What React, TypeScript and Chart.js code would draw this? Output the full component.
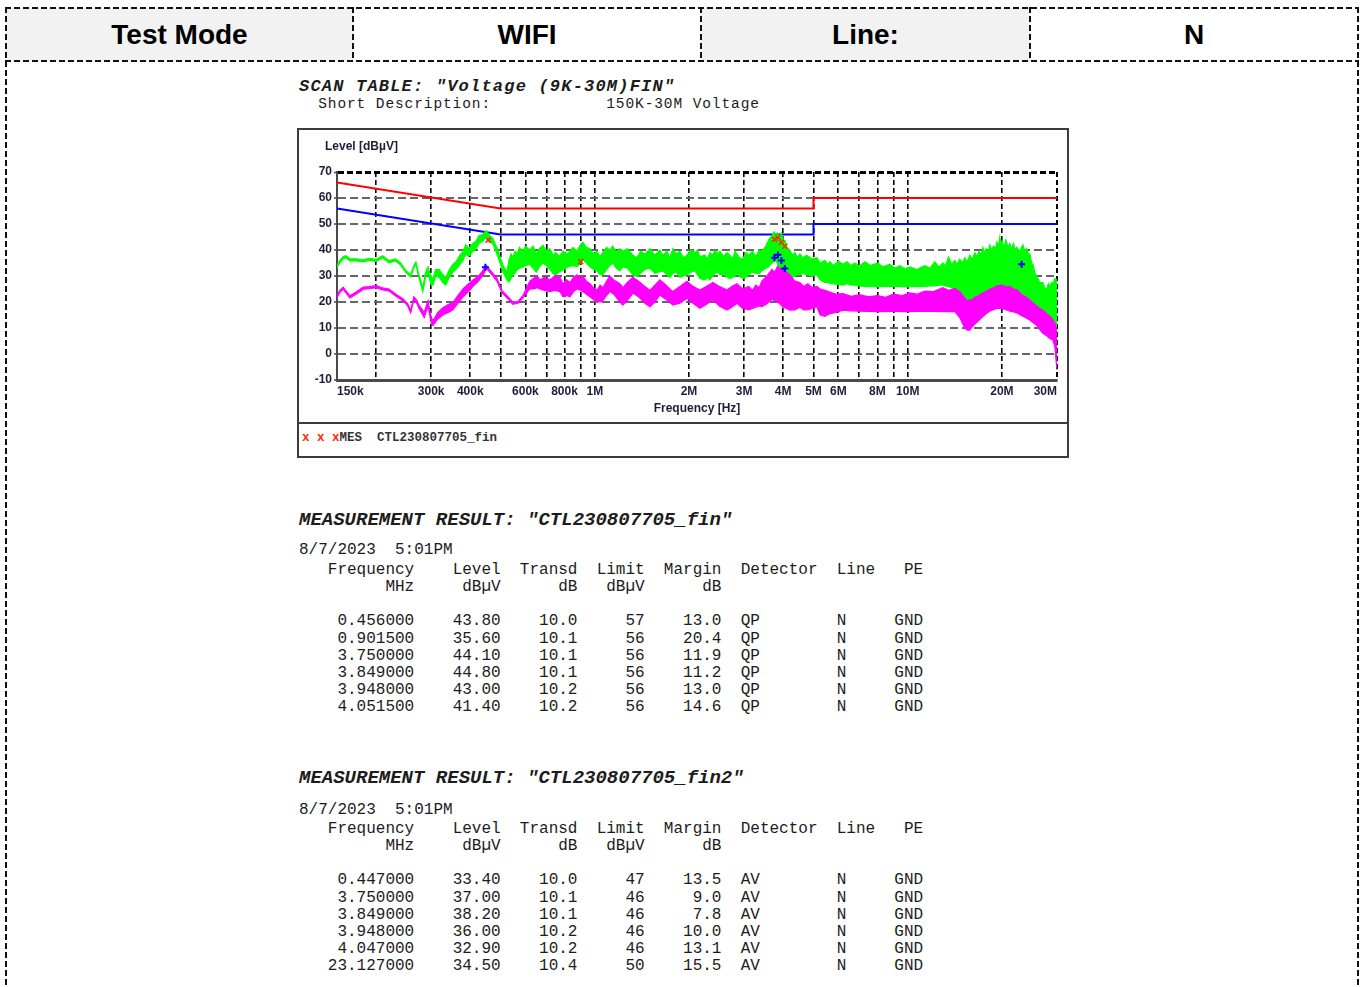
import React, { useEffect, useRef } from 'react';
import { Chart, registerables } from 'chart.js';

Chart.register(...registerables);

// ---------- header ----------
const HEADER_CELLS = ['Test Mode', 'WIFI', 'Line:', 'N'];

// ---------- scan table text ----------
const SCAN_TITLE = 'SCAN TABLE: "Voltage (9K-30M)FIN"';
const SCAN_DESC = '  Short Description:            150K-30M Voltage';

// ---------- axes ----------
const X_GRID = [0.15, 0.2, 0.3, 0.4, 0.5, 0.6, 0.7, 0.8, 0.9, 1, 2, 3, 4, 5, 6, 7, 8, 9, 10, 20, 30];
const X_TICK_LABELS = ['        150k', '', '300k', '400k', '', '600k', '', '800k', '', '1M', '2M', '3M', '4M', '5M', '6M', '', '8M', '', '10M', '20M', '30M       '];
const Y_TICKS = [-10, 0, 10, 20, 30, 40, 50, 60, 70];

// ---------- limit lines ----------
const LIMIT_FREQ = [0.15, 0.5, 5, 5, 30];
const QP_LIMIT_LINE = [66, 56, 56, 60, 60];
const AV_LIMIT_LINE = [56, 46, 46, 50, 50];

// ---------- peak scan trace (green): frequency [MHz], upper and lower edge [dBuV] ----------
const G_FREQ = [
  0.150, 0.153, 0.157, 0.160, 0.165, 0.172, 0.182, 0.190, 0.200, 0.210, 0.215, 0.220, 0.231, 0.240, 0.249, 0.258,
  0.264, 0.268, 0.274, 0.282, 0.288, 0.293, 0.300, 0.304, 0.310, 0.318, 0.327, 0.334, 0.343, 0.352, 0.360, 0.368,
  0.379, 0.387, 0.395, 0.408, 0.418, 0.426, 0.440, 0.449, 0.455, 0.462, 0.472, 0.490, 0.509, 0.524,
  0.532, 0.540, 0.547, 0.556, 0.564, 0.575, 0.589, 0.600, 0.620, 0.635, 0.650, 0.665, 0.683, 0.700, 0.719, 0.735,
  0.750, 0.770, 0.791, 0.820, 0.851, 0.877, 0.900, 0.916, 0.940, 0.965, 0.990, 1.016, 1.040, 1.061, 1.090, 1.117,
  1.142, 1.170, 1.203, 1.230, 1.270, 1.324, 1.363, 1.400, 1.446, 1.500, 1.556, 1.614, 1.650, 1.700, 1.738, 1.776,
  1.820, 1.871, 1.920, 1.970, 2.030, 2.089, 2.130, 2.166, 2.248, 2.290, 2.333, 2.380, 2.425, 2.470, 2.511, 2.580,
  2.644, 2.700, 2.763, 2.800, 2.846, 2.900, 2.974, 3.040, 3.108, 3.190, 3.273, 3.350, 3.420, 3.520, 3.600, 3.681,
  3.740, 3.791, 3.840, 3.875, 3.940, 4.000, 4.060, 4.110, 4.203, 4.280, 4.359, 4.450, 4.523, 4.624, 4.750, 4.940,
  5.124,
  5.25, 5.436, 5.55, 5.639, 5.80, 6.00, 6.205, 6.40, 6.60, 6.778, 7.00, 7.295, 7.60, 8.000, 8.35, 8.766,
  9.10, 9.435, 9.80, 10.16, 10.70, 11.34, 11.80, 12.20, 12.60, 12.95, 13.20, 13.50, 13.80, 14.15, 14.40, 14.67,
  14.95, 15.22, 15.50, 15.79, 16.10, 16.38, 16.65, 16.90, 17.15, 17.38, 17.60, 17.80, 18.05, 18.30, 18.55, 18.80,
  19.05, 19.27, 19.50, 19.70, 19.85, 20.00, 20.30, 20.60, 20.90, 21.20, 21.50, 21.80, 22.05, 22.32, 22.80, 23.33,
  23.70, 24.00, 24.30, 24.56, 24.90, 25.20, 25.50, 25.86, 26.40, 27.03, 27.40, 27.83, 28.15, 28.46, 28.80, 29.09,
  29.50, 30.00,
];
const G_HI = [
  34.0, 35.9, 37.4, 37.8, 36.6, 36.6, 36.2, 36.8, 36.4, 37.8, 36.8, 35.9, 36.6, 34.9, 32.1, 30.4,
  33.9, 35.4, 30.6, 25.5, 31.5, 33.5, 29.5, 29.0, 32.5, 32.5, 30.5, 29.5, 32.5, 34.5, 35.5, 37.5,
  39.5, 42.0, 40.5, 42.5, 43.5, 45.5, 46.0, 47.5, 46.5, 45.5, 44.5, 40.0, 34.0, 31.5,
  36.2, 38.5, 37.0, 39.5, 38.5, 41.0, 39.5, 41.5, 40.0, 41.5, 38.5, 40.5, 41.8, 39.5, 40.5, 38.0,
  39.0, 37.5, 39.5, 38.5, 41.0, 39.5, 42.0, 43.0, 41.0, 40.5, 38.5, 39.5, 37.5, 39.0, 41.0, 40.0,
  41.5, 39.0, 40.5, 39.5, 40.5, 38.0, 37.0, 39.5, 38.5, 40.5, 38.0, 40.0, 38.0, 39.5, 37.0, 40.5,
  38.5, 39.5, 37.0, 38.0, 40.0, 39.0, 40.0, 37.5, 38.0, 36.5, 39.0, 38.0, 40.0, 38.5, 39.5, 37.5,
  39.0, 38.0, 36.5, 39.5, 38.5, 37.0, 36.5, 39.0, 38.0, 39.5, 37.5, 40.0, 39.5, 41.5, 44.0, 45.5,
  47.0, 45.5, 46.5, 45.0, 46.5, 44.0, 43.5, 41.0, 40.0, 38.0, 39.0, 37.0, 38.5, 37.0, 38.0, 36.5,
  37.0,
  35.0, 36.0, 34.5, 35.5, 34.0, 35.8, 34.5, 35.5, 34.0, 35.0, 33.8, 35.5, 34.0, 35.0, 33.5, 34.5,
  33.0, 34.0, 32.8, 33.5, 32.5, 34.0, 33.0, 35.5, 33.5, 35.0, 33.8, 37.4, 34.5, 36.0, 34.5, 36.5,
  35.0, 37.0, 35.5, 38.0, 36.5, 39.0, 37.5, 39.5, 38.0, 41.0, 39.0, 40.5, 39.0, 42.0, 40.0, 41.5,
  40.5, 43.0, 41.5, 45.0, 42.5, 43.5, 41.0, 44.0, 41.0, 42.5, 40.5, 42.5, 40.0, 41.0, 39.5, 42.0,
  39.5, 40.5, 38.5, 38.5, 35.0, 34.0, 31.0, 30.0, 27.5, 27.5, 25.5, 25.0, 27.0, 26.0, 27.5, 27.0,
  29.0, 28.5,
];
const G_LO = [
  33.2, 35.1, 36.6, 37.0, 35.8, 35.8, 35.4, 36.0, 35.6, 37.0, 36.0, 35.1, 35.8, 34.1, 31.3, 29.6,
  33.1, 34.6, 29.4, 24.0, 29.5, 31.0, 26.5, 26.5, 30.0, 29.5, 27.5, 26.5, 29.5, 31.5, 32.5, 34.0,
  36.0, 38.5, 37.5, 39.5, 40.5, 42.5, 43.5, 45.5, 44.5, 43.0, 42.5, 37.5, 31.5, 28.5,
  27.8, 29.0, 30.5, 31.0, 32.3, 33.0, 33.5, 34.0, 34.5, 33.0, 31.5, 33.5, 35.0, 34.0, 32.5, 31.0,
  30.5, 31.5, 32.3, 33.5, 34.0, 33.6, 35.0, 36.2, 35.0, 33.5, 32.5, 32.0, 30.5, 30.4, 32.5, 34.0,
  35.0, 33.0, 32.0, 33.6, 33.0, 30.5, 29.7, 31.0, 32.5, 33.0, 31.0, 31.7, 32.0, 30.5, 29.5, 31.0,
  31.5, 29.5, 30.0, 30.4, 31.5, 32.0, 30.5, 29.0, 28.5, 29.5, 28.5, 30.0, 31.0, 31.5, 30.5, 30.5,
  29.7, 29.0, 29.5, 30.0, 31.0, 30.0, 29.0, 29.5, 30.5, 31.5, 31.0, 31.0, 32.0, 33.0, 33.6, 35.0,
  35.5, 36.2, 34.5, 34.0, 32.5, 31.0, 30.0, 29.5, 28.5, 29.5, 30.0, 30.5, 30.5, 31.0, 30.5, 30.0,
  30.4,
  28.5, 27.5, 27.5, 27.2, 27.0, 26.8, 26.5, 27.0, 26.5, 26.5, 26.2, 26.0, 26.0, 25.9, 26.0, 26.0,
  26.0, 26.0, 25.8, 25.9, 26.0, 26.0, 26.2, 26.2, 26.5, 26.5, 26.2, 26.0, 25.5, 25.0, 23.5, 22.0,
  21.0, 20.0, 19.5, 19.5, 20.0, 21.0, 22.0, 22.5, 23.0, 23.4, 23.8, 24.0, 24.0, 24.0, 24.0, 24.0,
  24.2, 24.5, 24.6, 24.6, 24.6, 24.6, 24.5, 24.5, 24.2, 24.0, 24.0, 24.0, 24.0, 24.0, 23.5, 23.0,
  22.0, 21.5, 20.5, 20.0, 19.0, 18.0, 17.0, 15.8, 14.0, 12.0, 10.5, 9.2, 9.0, 8.5, 8.2, 8.0,
  7.6, 7.3,
];

// ---------- average scan trace (magenta): frequency [MHz], upper and lower edge [dBuV] ----------
const M_FREQ = [
  0.150, 0.153, 0.157, 0.160, 0.165, 0.173, 0.182, 0.190, 0.200, 0.210, 0.220, 0.231, 0.244, 0.252, 0.258, 0.264,
  0.270, 0.274, 0.285, 0.293, 0.300, 0.304, 0.315, 0.327, 0.340, 0.352, 0.365, 0.379, 0.395, 0.408, 0.425, 0.440,
  0.450, 0.465, 0.487, 0.505, 0.524, 0.547, 0.570, 0.589, 0.620,
  0.640, 0.655, 0.668, 0.690, 0.719, 0.745, 0.774, 0.791, 0.812, 0.833, 0.855, 0.877, 0.900, 0.916, 0.940, 0.965,
  0.990, 1.016, 1.040, 1.061, 1.090, 1.117, 1.150, 1.203, 1.230, 1.270, 1.324, 1.380, 1.446, 1.500, 1.556, 1.614,
  1.690, 1.776, 1.870, 1.970, 2.060, 2.166, 2.270, 2.385, 2.500, 2.644, 2.740, 2.846, 2.970, 3.108, 3.190, 3.273,
  3.350, 3.420, 3.520, 3.600, 3.681, 3.760, 3.840, 3.920, 4.000, 4.100, 4.203, 4.359, 4.523, 4.650, 4.797, 4.950,
  5.124,
  5.25, 5.436, 5.639, 5.90, 6.205, 6.60, 7.000, 7.50, 8.000, 8.50, 9.000, 9.60, 10.16, 10.70, 11.34, 12.10,
  12.95, 13.50, 14.15, 14.67, 15.00, 15.22, 15.50, 15.79, 16.10, 16.38, 16.90, 17.38, 17.80, 18.30, 18.80, 19.27,
  20.00, 20.60, 21.20, 21.80, 22.32, 23.33, 24.00, 24.56, 25.20, 25.86, 26.40, 27.03, 27.80, 28.46, 29.09, 29.52,
  30.00,
];
const M_HI = [
  22.4, 24.4, 25.7, 24.4, 22.4, 23.9, 25.7, 25.9, 26.3, 25.4, 25.0, 23.1, 21.2, 19.4, 16.8, 22.0,
  20.6, 18.8, 16.0, 20.5, 14.0, 12.8, 16.0, 17.8, 19.0, 19.8, 22.5, 25.0, 27.0, 28.5, 30.0, 32.3,
  34.0, 32.0, 29.0, 24.4, 22.4, 19.9, 20.4, 22.4, 28.0,
  29.2, 30.0, 28.5, 29.5, 28.5, 30.0, 29.5, 27.0, 28.5, 27.5, 29.5, 30.5, 29.0, 30.0, 28.0, 27.0,
  25.5, 24.6, 26.5, 25.5, 28.0, 30.0, 28.5, 27.0, 25.5, 27.5, 29.5, 28.0, 26.0, 24.5, 26.5, 28.5,
  26.5, 24.0, 26.0, 28.0, 26.0, 24.6, 26.0, 27.5, 26.0, 24.6, 26.0, 27.0, 25.0, 26.0, 24.5, 26.5,
  25.5, 28.0, 29.5, 31.0, 32.5, 31.5, 33.8, 32.5, 33.0, 31.5, 30.4, 28.0, 27.5, 26.0, 27.0, 25.5,
  26.0,
  25.0, 24.5, 23.8, 23.0, 23.2, 22.2, 22.8, 22.0, 22.5, 21.8, 23.0, 22.5, 23.5, 23.0, 24.2, 24.0,
  25.5, 24.5, 25.2, 24.0, 22.5, 21.5, 20.5, 20.8, 21.0, 21.8, 22.5, 23.5, 24.0, 25.0, 25.5, 26.2,
  26.5, 25.8, 26.0, 25.0, 24.8, 22.5, 21.8, 20.8, 19.5, 18.5, 17.5, 16.9, 15.5, 14.5, 13.1, 12.0,
  9.2,
];
const M_LO = [
  21.6, 23.6, 24.9, 23.6, 21.6, 23.1, 24.9, 25.1, 25.5, 24.6, 24.2, 22.3, 20.4, 18.6, 15.8, 21.0,
  19.4, 17.6, 14.0, 18.5, 12.0, 11.0, 13.5, 15.0, 16.0, 17.0, 19.5, 22.0, 24.0, 26.0, 28.0, 30.5,
  33.0, 31.0, 28.0, 23.6, 21.6, 19.1, 19.6, 21.6, 25.0,
  25.0, 25.5, 25.0, 24.5, 24.0, 24.5, 24.0, 22.0, 22.5, 22.0, 24.0, 25.0, 24.5, 24.0, 23.0, 22.0,
  21.0, 20.1, 20.0, 20.5, 22.5, 24.0, 23.0, 20.0, 18.8, 20.5, 23.4, 22.0, 19.5, 18.2, 20.0, 22.7,
  21.0, 18.8, 19.5, 21.4, 19.5, 17.6, 19.0, 20.8, 18.5, 16.9, 18.0, 19.5, 17.5, 17.0, 17.5, 18.0,
  18.5, 18.2, 19.0, 20.0, 21.0, 20.5, 20.0, 19.0, 18.0, 17.5, 16.9, 17.0, 18.0, 17.0, 17.0, 17.5,
  18.2,
  15.0, 14.5, 15.5, 16.0, 16.9, 16.6, 16.5, 16.4, 16.3, 16.3, 16.5, 16.3, 16.3, 16.4, 16.5, 16.4,
  16.3, 16.3, 16.3, 14.0, 11.5, 10.0, 9.2, 9.2, 10.5, 11.5, 13.0, 14.4, 15.5, 16.5, 17.0, 17.6,
  17.5, 17.0, 16.5, 16.2, 15.8, 14.5, 13.8, 13.1, 12.0, 11.0, 9.5, 8.0, 7.0, 6.0, 5.4, 3.0,
  -6.2,
];

// ---------- measurement results ----------
const RESULT_DATE = '8/7/2023  5:01PM';
const QP_TITLE = 'MEASUREMENT RESULT: "CTL230807705_fin"';
const QP_FREQ = [0.456, 0.9015, 3.75, 3.849, 3.948, 4.0515];
const QP_LEVEL = [43.8, 35.6, 44.1, 44.8, 43.0, 41.4];
const QP_TRANSD = [10.0, 10.1, 10.1, 10.1, 10.2, 10.2];
const QP_LIMIT = [57, 56, 56, 56, 56, 56];
const QP_MARGIN = [13.0, 20.4, 11.9, 11.2, 13.0, 14.6];

const AV_TITLE = 'MEASUREMENT RESULT: "CTL230807705_fin2"';
const AV_FREQ = [0.447, 3.75, 3.849, 3.948, 4.047, 23.127];
const AV_LEVEL = [33.4, 37.0, 38.2, 36.0, 32.9, 34.5];
const AV_TRANSD = [10.0, 10.1, 10.1, 10.2, 10.2, 10.4];
const AV_LIMIT = [47, 46, 46, 46, 46, 50];
const AV_MARGIN = [13.5, 9.0, 7.8, 10.0, 13.1, 15.5];

const LINE_NAME = 'N';
const PE_NAME = 'GND';

// ---------- styles ----------
const MONO = '"Liberation Mono", "DejaVu Sans Mono", monospace';
const SANS = '"Liberation Sans", Arial, sans-serif';
const LABEL_COLOR = '#1e1e3a';
const TEXT_COLOR = '#1c1c1c';

const pts = (fs: number[], vs: number[]) => fs.map((f, i) => ({ x: f, y: vs[i] }));

function headerLines(): string[] {
  return [
    'Frequency'.padStart(12) + 'Level'.padStart(9) + 'Transd'.padStart(8) + 'Limit'.padStart(7) + 'Margin'.padStart(8) + '  ' + 'Detector'.padEnd(10) + 'Line'.padEnd(6) + 'PE'.padStart(3),
    'MHz'.padStart(12) + 'dB\u00b5V'.padStart(9) + 'dB'.padStart(8) + 'dB\u00b5V'.padStart(7) + 'dB'.padStart(8),
    '',
  ];
}

function rowLines(freq: number[], level: number[], transd: number[], limit: number[], margin: number[], det: string): string[] {
  return freq.map((f, i) =>
    f.toFixed(6).padStart(12) + level[i].toFixed(2).padStart(9) + transd[i].toFixed(1).padStart(8) + String(limit[i]).padStart(7) + margin[i].toFixed(1).padStart(8) + '  ' + det.padEnd(10) + LINE_NAME.padEnd(6) + PE_NAME.padStart(3)
  );
}

const HDash = ({ x, y, w }: { x: number; y: number; w: number }) => (
  <div style={{ position: 'absolute', left: x, top: y, width: w, height: 2, backgroundImage: 'repeating-linear-gradient(to right, #111 0 6px, transparent 6px 9px)' }} />
);
const VDash = ({ x, y, h }: { x: number; y: number; h: number }) => (
  <div style={{ position: 'absolute', left: x, top: y, width: 2, height: h, backgroundImage: 'repeating-linear-gradient(to bottom, #111 0 6px, transparent 6px 9px)' }} />
);

const Txt = ({ x, cy, size, bold, italic, children, color, spacing }: any) => (
  <div style={{ position: 'absolute', left: x, top: cy - 7.5, lineHeight: '15px', height: 15, whiteSpace: 'pre', fontFamily: MONO, fontSize: size, letterSpacing: spacing || 0, fontWeight: bold ? 'bold' : 'normal', fontStyle: italic ? 'italic' : 'normal', color: color || TEXT_COLOR }}>
    {children}
  </div>
);

const levelTitlePlugin = {
  id: 'levelTitle',
  afterDraw(chart: any) {
    const ctx = chart.ctx;
    ctx.save();
    ctx.font = 'bold 12px "Liberation Sans", Arial, sans-serif';
    ctx.fillStyle = LABEL_COLOR;
    ctx.textBaseline = 'middle';
    ctx.textAlign = 'left';
    ctx.fillText('Level [dB\u00b5V]', 26, 17);
    ctx.restore();
  },
};

function EmiChart() {
  const ref = useRef<HTMLCanvasElement | null>(null);
  useEffect(() => {
    if (!ref.current) return;
    const lineDs = (label: string, data: any[], color: string, order: number, fill: any, width = 1.2) => ({
      label, data, borderColor: color, backgroundColor: color, borderWidth: width, pointRadius: 0, tension: 0, fill, order,
    });
    const chart = new Chart(ref.current, {
      type: 'line',
      data: {
        datasets: [
          { label: 'QP', data: pts(QP_FREQ, QP_LEVEL), showLine: false, pointStyle: 'crossRot', pointRadius: 3.5, borderColor: '#ff2a00', backgroundColor: '#ff2a00', borderWidth: 1.5, order: 0 } as any,
          { label: 'AV', data: pts(AV_FREQ, AV_LEVEL), showLine: false, pointStyle: 'cross', pointRadius: 3.5, borderColor: '#0000ff', backgroundColor: '#0000ff', borderWidth: 2, order: 0 } as any,
          lineDs('AV hi', pts(M_FREQ, M_HI), '#ff00ff', 1, '+1'),
          lineDs('AV lo', pts(M_FREQ, M_LO), '#ff00ff', 1, false),
          lineDs('PK hi', pts(G_FREQ, G_HI), '#00ff00', 2, '+1'),
          lineDs('PK lo', pts(G_FREQ, G_LO), '#00ff00', 2, false),
          lineDs('QP limit', pts(LIMIT_FREQ, QP_LIMIT_LINE), '#ff0000', 3, false, 2),
          lineDs('AV limit', pts(LIMIT_FREQ, AV_LIMIT_LINE), '#0000ff', 3, false, 2),
        ],
      },
      options: {
        animation: false,
        responsive: false,
        maintainAspectRatio: false,
        layout: { autoPadding: false, padding: { left: 0, top: 42, right: 10, bottom: 0 } } as any,
        plugins: { legend: { display: false }, tooltip: { enabled: false }, title: { display: false } },
        scales: {
          x: {
            type: 'logarithmic',
            min: 0.15,
            max: 30,
            afterBuildTicks: (s: any) => { s.ticks = X_GRID.map((v) => ({ value: v })); },
            afterFit: (s: any) => { s.height = 42; s.paddingLeft = 0; s.paddingRight = 0; },
            ticks: {
              autoSkip: false, maxRotation: 0, minRotation: 0, padding: 4,
              font: { family: SANS, size: 12, weight: 'bold' }, color: LABEL_COLOR,
              callback: (_v: any, i: number) => X_TICK_LABELS[i],
            },
            grid: {
              drawTicks: false,
              color: (c: any) => (c.index === 0 ? 'rgba(0,0,0,0)' : '#000'),
              lineWidth: (c: any) => (c.index === X_GRID.length - 1 ? 2 : 1.6),
            },
            border: { display: true, color: '#4a4a4a', width: 3, dash: [5, 3] },
            title: { display: true, text: 'Frequency [Hz]', color: LABEL_COLOR, font: { family: SANS, size: 12, weight: 'bold' }, padding: { top: 0, bottom: 6 } },
          } as any,
          y: {
            type: 'linear',
            min: -10,
            max: 70,
            afterBuildTicks: (s: any) => { s.ticks = Y_TICKS.map((v) => ({ value: v })); },
            afterFit: (s: any) => { s.width = 38; s.paddingTop = 0; s.paddingBottom = 0; },
            ticks: { padding: 2, font: { family: SANS, size: 12, weight: 'bold' }, color: LABEL_COLOR },
            grid: {
              drawTicks: true, tickLength: 3, tickColor: '#444', tickWidth: 1.5,
              color: (c: any) => (c.tick && c.tick.value === 70 ? '#000' : c.tick && c.tick.value === -10 ? 'rgba(0,0,0,0)' : '#666'),
              lineWidth: (c: any) => (c.tick && c.tick.value === 70 ? 3 : 2),
            },
            border: { display: true, color: '#4a4a4a', width: 2, dash: (c: any) => (c.tick && c.tick.value === 70 ? [6, 3] : [8, 4]) },
          } as any,
        },
      },
      plugins: [levelTitlePlugin],
    });
    return () => chart.destroy();
  }, []);
  return <canvas ref={ref} width={768} height={292} style={{ position: 'absolute', left: 299, top: 130, width: 768, height: 292 }} />;
}

export default function App() {
  const cellEdges = [6, 353, 701, 1030, 1358];
  const block1 = [...headerLines(), ...rowLines(QP_FREQ, QP_LEVEL, QP_TRANSD, QP_LIMIT, QP_MARGIN, 'QP')];
  const block2 = [...headerLines(), ...rowLines(AV_FREQ, AV_LEVEL, AV_TRANSD, AV_LIMIT, AV_MARGIN, 'AV')];
  return (
    <div style={{ position: 'absolute', left: 0, top: 0, width: 1362, height: 987, overflow: 'hidden', background: '#fff' }}>
      {/* header table */}
      {HEADER_CELLS.map((t, i) => (
        <div key={t} style={{ position: 'absolute', left: cellEdges[i], top: 8, width: cellEdges[i + 1] - cellEdges[i], height: 53, background: i % 2 === 0 ? '#f2f2f2' : '#fff', display: 'flex', alignItems: 'center', justifyContent: 'center', fontFamily: SANS, fontWeight: 'bold', fontSize: 28, color: '#000' }}>
          {t}
        </div>
      ))}
      <HDash x={5} y={7} w={1354} />
      <HDash x={5} y={60} w={1354} />
      {cellEdges.map((x) => <VDash key={x} x={x - 1} y={7} h={54} />)}
      <VDash x={5} y={61} h={930} />
      <VDash x={1357} y={61} h={930} />

      {/* scan table */}
      <Txt x={299} cy={86} size={17} spacing={1.2} bold italic>{SCAN_TITLE}</Txt>
      <Txt x={299} cy={104} size={14.5} spacing={0.9}>{SCAN_DESC}</Txt>

      {/* chart box */}
      <div style={{ position: 'absolute', left: 297, top: 128, width: 772, height: 330, border: '2px solid #3c3c3c', boxSizing: 'border-box' }} />
      <EmiChart />
      <div style={{ position: 'absolute', left: 299, top: 422, width: 768, height: 2, background: '#3c3c3c' }} />
      <div style={{ position: 'absolute', left: 302, top: 429, lineHeight: '18px', whiteSpace: 'pre', fontFamily: MONO, fontSize: 12.5, fontWeight: 'bold', color: '#333' }}>
        <span style={{ color: '#ff2a00' }}>x x x</span>MES  CTL230807705_fin
      </div>

      {/* results 1 */}
      <Txt x={299} cy={520} size={19} bold italic>{QP_TITLE}</Txt>
      <Txt x={299} cy={550.5} size={16}>{RESULT_DATE}</Txt>
      <div style={{ position: 'absolute', left: 299, top: 570.5 - 8.6, lineHeight: '17.2px', whiteSpace: 'pre', fontFamily: MONO, fontSize: 16, color: TEXT_COLOR }}>
        {block1.map((l, i) => <div key={i} style={{ height: 17.2 }}>{l}</div>)}
      </div>

      {/* results 2 */}
      <Txt x={299} cy={778} size={19} bold italic>{AV_TITLE}</Txt>
      <Txt x={299} cy={810.5} size={16}>{RESULT_DATE}</Txt>
      <div style={{ position: 'absolute', left: 299, top: 829.5 - 8.6, lineHeight: '17.2px', whiteSpace: 'pre', fontFamily: MONO, fontSize: 16, color: TEXT_COLOR }}>
        {block2.map((l, i) => <div key={i} style={{ height: 17.2 }}>{l}</div>)}
      </div>
    </div>
  );
}
